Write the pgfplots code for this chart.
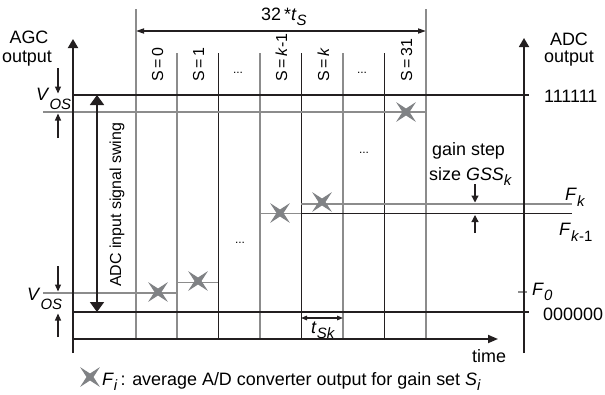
\documentclass[border=0pt]{standalone}
\usepackage{fontspec}
\setmainfont{Liberation Sans}
\usepackage{pgfplots}
\pgfplotsset{compat=1.18}
\usetikzlibrary{arrows.meta}
\definecolor{lg}{RGB}{140,140,140}
\definecolor{mk}{RGB}{128,130,133}
\definecolor{bk}{RGB}{35,31,32}
\pgfdeclareplotmark{star4}{%
  \pgfpathmoveto{\pgfpointpolar{45}{14bp}}%
  \pgfpathlineto{\pgfpointpolar{90}{3.5bp}}%
  \pgfpathlineto{\pgfpointpolar{135}{14bp}}%
  \pgfpathlineto{\pgfpointpolar{180}{3.5bp}}%
  \pgfpathlineto{\pgfpointpolar{225}{14bp}}%
  \pgfpathlineto{\pgfpointpolar{270}{3.5bp}}%
  \pgfpathlineto{\pgfpointpolar{315}{14bp}}%
  \pgfpathlineto{\pgfpointpolar{0}{3.5bp}}%
  \pgfpathclose
  \pgfusepathqfill}
\newcommand\fs{\fontsize{18}{21.6}\selectfont}
\newcommand\fss{\fontsize{16}{19}\selectfont}
\newcommand\sbs[2][6bp]{\raisebox{-#1}{\fontsize{15}{15}\selectfont #2}}
\begin{document}
\begin{tikzpicture}
\begin{axis}[name=ax, at={(0,0)}, anchor=south west, x=1bp, y=1bp,
  xmin=0, xmax=605, ymin=0, ymax=394, hide axis, clip=false]
% vertical column lines
\addplot[lg, line width=1.2bp] coordinates {(136,55) (136,385)};
\addplot[lg, line width=1.4bp] coordinates {(177,55) (177,341)};
\addplot[bk, line width=0.9bp] coordinates {(218,55) (218,341)};
\addplot[lg, line width=1.4bp] coordinates {(260,55) (260,341)};
\addplot[bk, line width=0.9bp] coordinates {(301,55) (301,341)};
\addplot[lg, line width=1.4bp] coordinates {(343,55) (343,341)};
\addplot[bk, line width=0.9bp] coordinates {(384,55) (384,341)};
\addplot[lg, line width=1.2bp] coordinates {(426,55) (426,385)};
% reference levels
\addplot[bk, line width=1.6bp] coordinates {(73,299) (529,299)};
\addplot[bk, line width=1.6bp] coordinates {(73,82) (529,82)};
\addplot[lg, line width=1.6bp] coordinates {(43,282) (427,282)};
\addplot[lg, line width=1.6bp] coordinates {(43,101) (177,101)};
\addplot[lg, line width=1.6bp] coordinates {(177,111.5) (218,111.5)};
\addplot[lg, line width=1.6bp] coordinates {(260,180.5) (301,180.5)};
\addplot[bk, line width=1.1bp] coordinates {(301,180.5) (572,180.5)};
\addplot[lg, line width=1.6bp] coordinates {(301,190) (572,190)};
% F0 tick
\addplot[lg, line width=1.1bp] coordinates {(518,102) (527,102)};
% axes
\addplot[bk, line width=1.8bp, -{Triangle[length=9bp,width=10bp]}] coordinates {(73,41) (73,355)};
\addplot[bk, line width=1.8bp, -{Triangle[length=9bp,width=10bp]}] coordinates {(524,41) (524,356)};
\addplot[bk, line width=1.8bp, -{Triangle[length=10bp,width=8bp]}] coordinates {(73,55) (498,55)};
% ADC input swing
\addplot[bk, line width=1.8bp, {Triangle[length=10bp,width=14bp]}-{Triangle[length=10bp,width=14bp]}] coordinates {(97,82) (97,299)};
% 32 tS
\addplot[bk, line width=1.6bp, {Triangle[length=8bp,width=5bp]}-{Triangle[length=8bp,width=5bp]}] coordinates {(136,363) (426,363)};
% tSk
\addplot[bk, line width=1.4bp, {Triangle[length=6bp,width=4.5bp]}-{Triangle[length=6bp,width=4.5bp]}] coordinates {(301,76) (343,76)};
% VOS arrows
\addplot[bk, line width=1.2bp, -{Triangle[length=7bp,width=6bp]}] coordinates {(58,326) (58,300.5)};
\addplot[bk, line width=1.2bp, -{Triangle[length=7bp,width=6bp]}] coordinates {(58,256) (58,280.5)};
\addplot[bk, line width=1.2bp, -{Triangle[length=7bp,width=6bp]}] coordinates {(58,128) (58,102.5)};
\addplot[bk, line width=1.2bp, -{Triangle[length=7bp,width=6bp]}] coordinates {(58,57) (58,80.5)};
% GSS arrows
\addplot[bk, line width=1.2bp, -{Triangle[length=7bp,width=7bp]}] coordinates {(475,210) (475,191.5)};
\addplot[bk, line width=1.2bp, -{Triangle[length=7bp,width=7bp]}] coordinates {(475,161) (475,179)};
% averaged outputs F_i
\addplot[only marks, mark=star4, color=mk] coordinates {(158,102) (198,113) (280,181) (322,192) (406,282)};
% legend mark
\addplot[only marks, mark=star4, color=mk] coordinates {(90,17)};
% texts
\node[anchor=base, inner sep=0, font=\fs] at (29,351) {AGC};
\node[anchor=base, inner sep=0, font=\fs] at (27,332) {output};
\node[anchor=base, inner sep=0, font=\fs] at (569,349) {ADC};
\node[anchor=base, inner sep=0, font=\fs] at (569,332) {output};
\node[anchor=base west, inner sep=0, font=\fs] at (544,292) {111111};
\node[anchor=base west, inner sep=0, font=\fs] at (543,74) {000000};
\node[anchor=base west, inner sep=0, font=\fs] at (36,294) {\textit{V}\sbs[9bp]{\textit{OS}}};
\node[anchor=base west, inner sep=0, font=\fs] at (27,94) {\textit{V}\sbs[9bp]{\textit{OS}}};
\node[anchor=base west, inner sep=0, font=\fs] at (532,99) {\textit{F}\sbs[5bp]{\textit{0}}};
\node[anchor=base west, inner sep=0, font=\fs] at (565,194) {\textit{F}\sbs{\textit{k}}};
\node[anchor=base west, inner sep=0, font=\fs] at (559,159) {\textit{F}\sbs{\textit{k}-1}};
\node[anchor=base west, inner sep=0, font=\fs] at (432,239) {gain step};
\node[anchor=base west, inner sep=0, font=\fs] at (429,214) {size \textit{GSS}\sbs[5bp]{\textit{k}}};
\node[anchor=base west, inner sep=0, font=\fs] at (472,32) {time};
\node[anchor=base west, inner sep=0, font=\fs] at (311,61) {\textit{t}\sbs[5bp]{\textit{Sk}}};
\node[anchor=base west, inner sep=0, font=\fs] at (261,374) {32\,*\textit{t}\sbs[5bp]{\textit{S}}};
\node[anchor=base west, inner sep=0, font=\fs] at (102,9) {\textit{F}\sbs[5bp]{\textit{i}}\,: average A/D converter output for gain set \textit{S}\sbs[5bp]{\textit{i}}};
% S column labels
\node[rotate=90, anchor=base west, inner sep=0, font=\fss] at (163,312) {S\,=\,0};
\node[rotate=90, anchor=base west, inner sep=0, font=\fss] at (204,312) {S\,=\,1};
\node[rotate=90, anchor=base west, inner sep=0, font=\fss] at (287,312) {S\,=\,\textit{k}-1};
\node[rotate=90, anchor=base west, inner sep=0, font=\fss] at (329,312) {S\,=\,\textit{k}};
\node[rotate=90, anchor=base west, inner sep=0, font=\fss] at (412,312) {S\,=\,31};
\node[rotate=90, anchor=base west, inner sep=0, font=\fss] at (121,107) {ADC input signal swing};
% ellipses
\node[anchor=base, inner sep=0, font=\fontsize{12}{12}\selectfont] at (238,321) {...};
\node[anchor=base, inner sep=0, font=\fontsize{12}{12}\selectfont] at (362,321) {...};
\node[anchor=base, inner sep=0, font=\fontsize{12}{12}\selectfont] at (240,151) {...};
\node[anchor=base, inner sep=0, font=\fontsize{12}{12}\selectfont] at (364,241) {...};
\end{axis}
\pgfresetboundingbox
\path (ax.south west) rectangle (ax.north east);
\end{tikzpicture}
\end{document}
